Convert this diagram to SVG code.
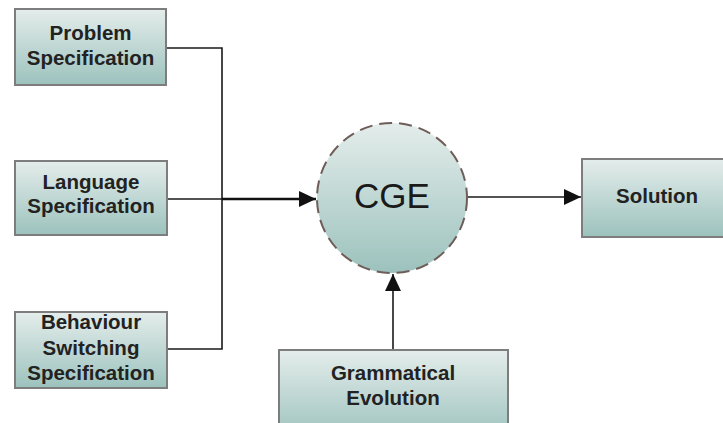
<svg xmlns="http://www.w3.org/2000/svg" width="723" height="423" viewBox="0 0 723 423">
  <defs>
    <linearGradient id="boxFill" x1="0" y1="0" x2="0" y2="1">
      <stop offset="0" stop-color="#e4edeb"/>
      <stop offset="1" stop-color="#9cc2bd"/>
    </linearGradient>
    <marker id="arrow" markerUnits="userSpaceOnUse" markerWidth="18" markerHeight="16" viewBox="0 0 18 16" refX="17" refY="8" orient="auto">
      <path d="M0,0 L17,8 L0,16 Z" fill="#111"/>
    </marker>
    <style>
      .box { fill: url(#boxFill); stroke: #7d7d7d; stroke-width: 2; }
      .lbl { font-family: "Liberation Sans", Arial, sans-serif; font-weight: bold; font-size: 20.5px; fill: #222; text-anchor: middle; }
      .line { fill: none; stroke: #1a1a1a; stroke-width: 1.6; }
      .thick { fill: none; stroke: #111; stroke-width: 2.4; }
    </style>
  </defs>

  <rect width="723" height="423" fill="#ffffff"/>

  <!-- connectors -->
  <g id="connectors">
    <path class="line" d="M166,48 H222 V349 H167"/>
    <path class="line" d="M167,199 H222"/>
    <path class="thick" d="M222,199 H316" marker-end="url(#arrow)"/>
    <path class="line" d="M468,197 H581" marker-end="url(#arrow)"/>
    <path class="line" d="M393,349 V274" marker-end="url(#arrow)"/>
  </g>

  <g id="problem-spec">
    <rect class="box" x="15" y="9" width="151" height="76"/>
    <text class="lbl" x="90.5" y="40">Problem</text>
    <text class="lbl" x="90.5" y="65">Specification</text>
  </g>

  <g id="language-spec">
    <rect class="box" x="15" y="161" width="152" height="74"/>
    <text class="lbl" x="91" y="189">Language</text>
    <text class="lbl" x="91" y="213">Specification</text>
  </g>

  <g id="behaviour-spec">
    <rect class="box" x="15" y="312" width="152" height="76"/>
    <text class="lbl" x="91" y="329">Behaviour</text>
    <text class="lbl" x="91" y="355">Switching</text>
    <text class="lbl" x="91" y="380">Specification</text>
  </g>

  <g id="cge">
    <circle cx="392" cy="198" r="75" fill="url(#boxFill)" stroke="#6e5d58" stroke-width="2" stroke-dasharray="13 7"/>
    <text x="392" y="208" font-family="&quot;Liberation Sans&quot;, Arial, sans-serif" font-size="35" fill="#1a1a1a" text-anchor="middle">CGE</text>
  </g>

  <g id="solution">
    <rect class="box" x="582" y="159" width="150" height="78"/>
    <text class="lbl" x="657" y="203">Solution</text>
  </g>

  <g id="grammatical-evolution">
    <rect class="box" x="279" y="350" width="229" height="90"/>
    <text class="lbl" x="393" y="380">Grammatical</text>
    <text class="lbl" x="393" y="405">Evolution</text>
  </g>
</svg>
